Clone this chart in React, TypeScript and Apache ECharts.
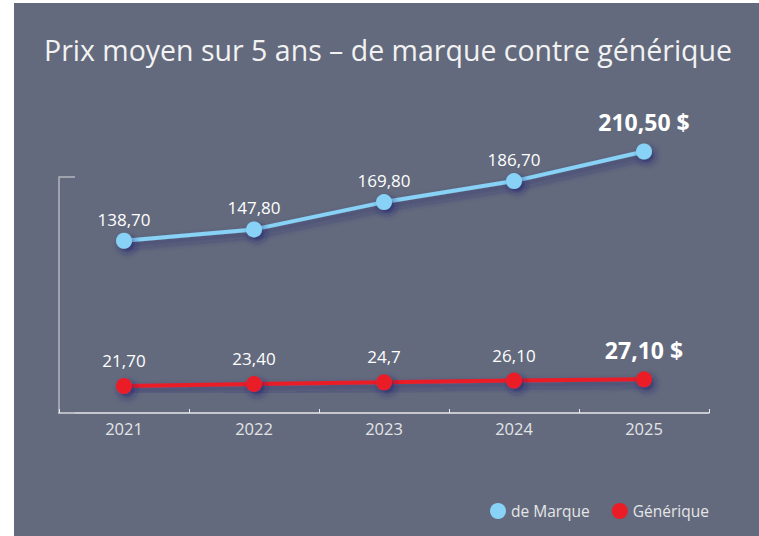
import React, { useEffect, useRef } from "react";
import * as echarts from "echarts";

const years = ["2021", "2022", "2023", "2024", "2025"];
const brandValues = [138.7, 147.8, 169.8, 186.7, 210.5];
const genericValues = [21.7, 23.4, 24.7, 26.1, 27.1];
const brandLabels = ["138,70", "147,80", "169,80", "186,70", "210,50 $"];
const genericLabels = ["21,70", "23,40", "24,7", "26,10", "27,10 $"];

const BG = "#636a7d";
const BLUE = "#87d2f6";
const RED = "#ea1c26";
const FONT = "'Open Sans', Lato, sans-serif";
const SHADOW = "rgba(28,28,110,0.65)";

function buildData(values: number[], labels: string[], normalDist: number) {
  return values.map((v, i) => {
    const last = i === values.length - 1;
    return {
      value: v,
      label: {
        show: true,
        position: "top",
        distance: last ? 10 : normalDist,
        formatter: labels[i],
        color: "#ffffff",
        fontFamily: FONT,
        fontSize: last ? 23 : 17,
        fontWeight: last ? "bold" : "normal",
      },
    };
  });
}

export default function App() {
  const ref = useRef<HTMLDivElement>(null);
  useEffect(() => {
    if (!ref.current) return;
    const chart = echarts.init(ref.current, null, { renderer: "svg" });
    const lineShadow = {
      shadowColor: SHADOW,
      shadowBlur: 7,
      shadowOffsetX: 3,
      shadowOffsetY: 4,
    };
    chart.setOption({
      animation: false,
      backgroundColor: "#ffffff",
      graphic: [
        {
          type: "rect",
          silent: true,
          z: -10,
          shape: { x: 14, y: 3, width: 745, height: 533 },
          style: { fill: BG },
        },
        {
          type: "text",
          x: 388,
          y: 50,
          style: {
            text: "Prix moyen sur 5 ans – de marque contre générique",
            fill: "#f2f2f2",
            fontFamily: FONT,
            fontSize: 28.5,
            textAlign: "center",
            textVerticalAlign: "middle",
          },
        },
      ],
      grid: { left: 59, right: 50, top: 177, bottom: 123 },
      legend: {
        left: 485,
        top: 498,
        icon: "circle",
        itemWidth: 16,
        itemHeight: 16,
        itemGap: 22,
        textStyle: { color: "#e6e6e6", fontFamily: FONT, fontSize: 15.5 },
        data: ["de Marque", "Générique"],
      },
      xAxis: {
        type: "category",
        data: years,
        boundaryGap: true,
        axisLine: { lineStyle: { color: "#e8e8ea", width: 1.5 } },
        axisTick: { show: true, inside: true, length: 4, lineStyle: { color: "#e8e8ea" } },
        axisLabel: { color: "#e4e4e6", fontFamily: FONT, fontSize: 16.5, margin: 7 },
        splitLine: { show: false },
      },
      yAxis: {
        type: "value",
        min: 0,
        max: 190,
        interval: 190,
        axisLine: { show: true, lineStyle: { color: "#b4b7be", width: 1.5 } },
        axisTick: { show: true, inside: true, length: 16, lineStyle: { color: "#b4b7be", width: 1.5 } },
        axisLabel: { show: false },
        splitLine: { show: false },
      },
      series: [
        {
          name: "de Marque",
          type: "line",
          clip: false,
          data: buildData(brandValues, brandLabels, 5),
          symbol: "circle",
          symbolSize: 16,
          lineStyle: { color: BLUE, width: 4, ...lineShadow },
          itemStyle: { color: BLUE, ...lineShadow },
        },
        {
          name: "Générique",
          type: "line",
          clip: false,
          data: buildData(genericValues, genericLabels, 9),
          symbol: "circle",
          symbolSize: 16,
          lineStyle: { color: RED, width: 4, ...lineShadow },
          itemStyle: { color: RED, ...lineShadow },
        },
      ],
    });
    return () => chart.dispose();
  }, []);
  return (
    <div
      ref={ref}
      style={{ position: "absolute", left: 0, top: 0, width: 759, height: 536 }}
    />
  );
}
